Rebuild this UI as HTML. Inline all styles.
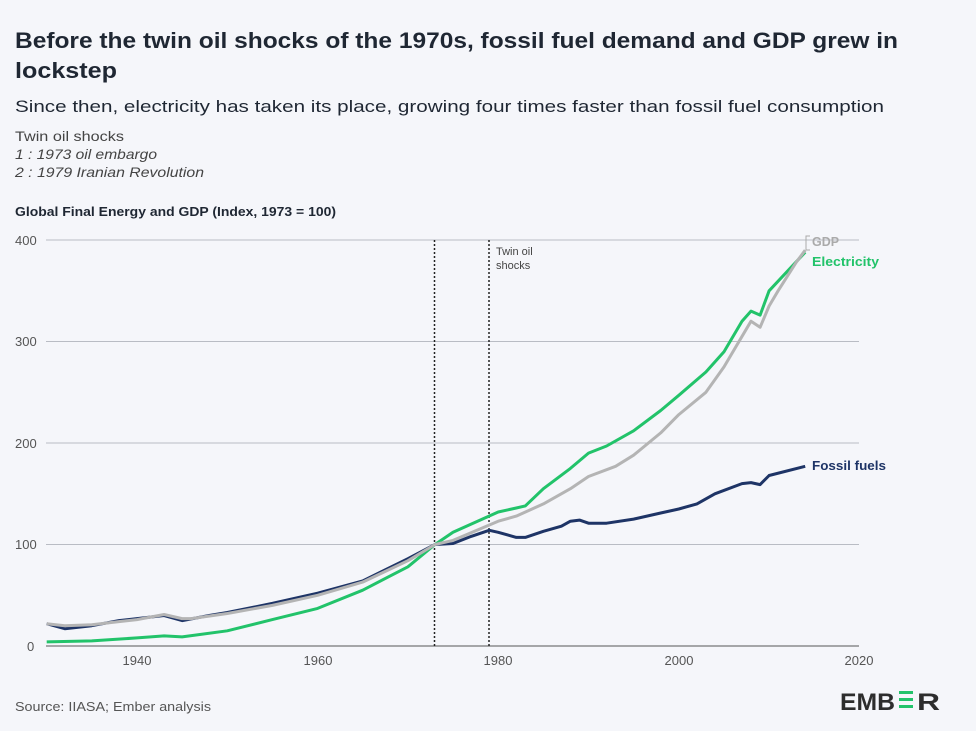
<!DOCTYPE html>
<html><head><meta charset="utf-8"><style>
body{margin:0;background:#f5f6fa;font-family:"Liberation Sans",sans-serif;}
.wrap{position:relative;width:976px;height:731px;overflow:hidden;background:#f5f6fa;}
svg{position:absolute;left:0;top:0}
</style></head><body><div class="wrap">
<svg width="976" height="731" id="s" xmlns="http://www.w3.org/2000/svg" font-family="Liberation Sans, sans-serif">
<text x="15" y="48" font-size="22" font-weight="bold" fill="#1f2733" textLength="883" lengthAdjust="spacingAndGlyphs">Before the twin oil shocks of the 1970s, fossil fuel demand and GDP grew in</text>
<text x="15" y="78" font-size="22" font-weight="bold" fill="#1f2733" textLength="102" lengthAdjust="spacingAndGlyphs">lockstep</text>
<text x="15" y="112" font-size="17" fill="#1f2733" textLength="869" lengthAdjust="spacingAndGlyphs">Since then, electricity has taken its place, growing four times faster than fossil fuel consumption</text>
<text x="15" y="141" font-size="14" fill="#444" textLength="109" lengthAdjust="spacingAndGlyphs">Twin oil shocks</text>
<text x="15" y="159" font-size="14" font-style="italic" fill="#444" textLength="142" lengthAdjust="spacingAndGlyphs">1 : 1973 oil embargo</text>
<text x="15" y="177" font-size="14" font-style="italic" fill="#444" textLength="189" lengthAdjust="spacingAndGlyphs">2 : 1979 Iranian Revolution</text>
<text x="15" y="216" font-size="13" font-weight="bold" fill="#1f2733" textLength="321" lengthAdjust="spacingAndGlyphs">Global Final Energy and GDP (Index, 1973 = 100)</text>
<g stroke="#b9bcc4" stroke-width="1">
<line x1="46" x2="859" y1="240" y2="240"/><line x1="46" x2="859" y1="341.5" y2="341.5"/>
<line x1="46" x2="859" y1="443" y2="443"/><line x1="46" x2="859" y1="544.5" y2="544.5"/>
</g>
<line x1="46" x2="859" y1="646" y2="646" stroke="#555" stroke-width="1"/>
<g font-size="13" fill="#555">
<text x="15" y="245">400</text><text x="15" y="346">300</text><text x="15" y="448">200</text><text x="15" y="549">100</text><text x="27" y="651">0</text>
<text x="137" y="665" text-anchor="middle">1940</text><text x="318" y="665" text-anchor="middle">1960</text><text x="498" y="665" text-anchor="middle">1980</text><text x="679" y="665" text-anchor="middle">2000</text><text x="859" y="665" text-anchor="middle">2020</text>
</g>
<line x1="434.5" x2="434.5" y1="240" y2="646" stroke="#222" stroke-dasharray="2,2" stroke-width="1.5"/>
<line x1="489" x2="489" y1="240" y2="646" stroke="#222" stroke-dasharray="2,2" stroke-width="1.5"/>
<text x="496" y="255" font-size="11" fill="#444">Twin oil</text>
<text x="496" y="269" font-size="11" fill="#444">shocks</text>
<g id="lines" fill="none" stroke-width="3" stroke-linejoin="round"></g>
<path d="M810,236 h-4 v14 h4" stroke="#aaa" fill="none"/>
<line x1="840" x2="858" y1="240" y2="240" stroke="#b9bcc4"/>
<text x="812" y="246" font-size="13" font-weight="bold" fill="#aaa" textLength="27" lengthAdjust="spacingAndGlyphs">GDP</text>
<text x="812" y="266" font-size="13" font-weight="bold" fill="#22c36a" textLength="67" lengthAdjust="spacingAndGlyphs">Electricity</text>
<text x="812" y="470" font-size="13" font-weight="bold" fill="#1e3466" textLength="74" lengthAdjust="spacingAndGlyphs">Fossil fuels</text>
<text x="15" y="711" font-size="13" fill="#555" textLength="196" lengthAdjust="spacingAndGlyphs">Source: IIASA; Ember analysis</text>
<text x="840" y="710" font-size="24" font-weight="bold" fill="#2d2d2d" textLength="55" lengthAdjust="spacingAndGlyphs">EMB</text>
<text x="917" y="710" font-size="24" font-weight="bold" fill="#2d2d2d" textLength="23" lengthAdjust="spacingAndGlyphs">R</text>
<rect x="899" y="691" width="14" height="3" fill="#22c36a"/>
<rect x="899" y="698" width="14" height="3" fill="#22c36a"/>
<rect x="899" y="705" width="14" height="3" fill="#22c36a"/>
</svg>
<script>
function X(y){return 46.7+(y-1930)*9.03}function Y(v){return 646-v*1.015}
function P(d){return d.map((p,i)=>(i?'L':'M')+X(p[0]).toFixed(1)+','+Y(p[1]).toFixed(1)).join(' ')}
var fos=[[1930,22],[1932,17],[1935,20],[1938,25],[1940,27],[1943,30],[1945,25],[1948,30],[1950,33],[1955,42],[1960,52],[1965,64],[1970,86],[1973,100],[1975,101],[1977,108],[1979,114],[1980,112],[1982,107],[1983,107],[1985,113],[1987,118],[1988,123],[1989,124],[1990,121],[1992,121],[1995,125],[1998,131],[2000,135],[2002,140],[2004,150],[2007,160],[2008,161],[2009,159],[2010,168],[2014,177]];
var gdp=[[1930,22],[1932,20],[1935,21],[1938,24],[1940,26],[1943,31],[1945,27],[1946,27],[1950,32],[1955,40],[1960,50],[1965,63],[1970,84],[1973,100],[1975,104],[1980,123],[1982,128],[1985,140],[1988,155],[1990,167],[1993,177],[1995,188],[1998,210],[2000,228],[2003,250],[2005,275],[2008,320],[2009,314],[2010,335],[2011,350],[2013,378],[2014,390]];
var ele=[[1930,4],[1935,5],[1940,8],[1943,10],[1945,9],[1950,15],[1955,26],[1960,37],[1965,55],[1970,78],[1973,100],[1975,112],[1980,132],[1982,136],[1983,138],[1985,155],[1988,175],[1990,190],[1992,197],[1995,212],[1998,232],[2000,247],[2003,270],[2005,290],[2007,320],[2008,330],[2009,326],[2010,350],[2014,388]];
var g=document.getElementById('lines');
[[fos,'#1e3466'],[ele,'#22c36a'],[gdp,'#b4b4b4']].forEach(function(a){var p=document.createElementNS('http://www.w3.org/2000/svg','path');p.setAttribute('d',P(a[0]));p.setAttribute('stroke',a[1]);g.appendChild(p)});
</script>
</div></body></html>
